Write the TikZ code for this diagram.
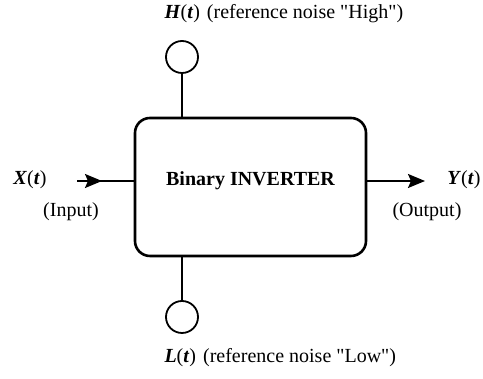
\documentclass[tikz,border=0pt]{standalone}
\usepackage{fontspec}
\setmainfont{Liberation Serif}[Ligatures=TeXOff]
\usetikzlibrary{arrows.meta, decorations.markings}

\begin{document}
\begin{tikzpicture}[x=1pt, y=1pt,
    every node/.style={font=\fontsize{20}{23}\selectfont},
    wire/.style={line width=2pt},
    tip/.style={-{Stealth[length=17pt, width=14pt, inset=3pt]}},
    midtip/.style={decoration={markings, mark=at position 25pt with {\arrow{Stealth[length=17pt, width=14pt, inset=3pt]}}}, postaction={decorate}},
    noise/.style={circle, draw, line width=1.8pt, minimum size=32pt, inner sep=0pt}]
    \useasboundingbox (0, 0) rectangle (483, 379);

    % The inverter block
    \node[draw, line width=2.6pt, rounded corners=15pt, minimum width=231pt, minimum height=138pt] (inv) at (250.5, 192) {};
    \node[font=\fontsize{20}{23}\selectfont\bfseries] (title) at (250.5, 198.5) {Binary INVERTER};

    % Reference noise sources
    \node[noise] (hin) at (182, 322) {};
    \node[noise] (lin) at (182, 62) {};
    \draw[wire] (hin.south) -- (hin.south |- inv.north);
    \draw[wire] (lin.north) -- (lin.north |- inv.south);
    \node[anchor=west] (hlab) at (161, 365) {\textbf{\textit{H}}(\textbf{\textit{t}})\hspace{0.35em}(reference noise "High")};
    \node[anchor=west] (llab) at (161, 21) {\textbf{\textit{L}}(\textbf{\textit{t}})\hspace{0.35em}(reference noise "Low")};

    % Input side
    \coordinate (xin) at (77, 198);
    \draw[wire, midtip] (xin) -- (xin -| inv.west);
    \node (xlab) at (30, 199) {\textbf{\textit{X}}(\textbf{\textit{t}})};
    \node (inlab) at (71, 167) {(Input)};

    % Output side
    \coordinate (yout) at (425, 198);
    \draw[wire, tip] (yout -| inv.east) -- (yout);
    \node (ylab) at (464, 199) {\textbf{\textit{Y}}(\textbf{\textit{t}})};
    \node (outlab) at (427, 167) {(Output)};
\end{tikzpicture}
\end{document}
